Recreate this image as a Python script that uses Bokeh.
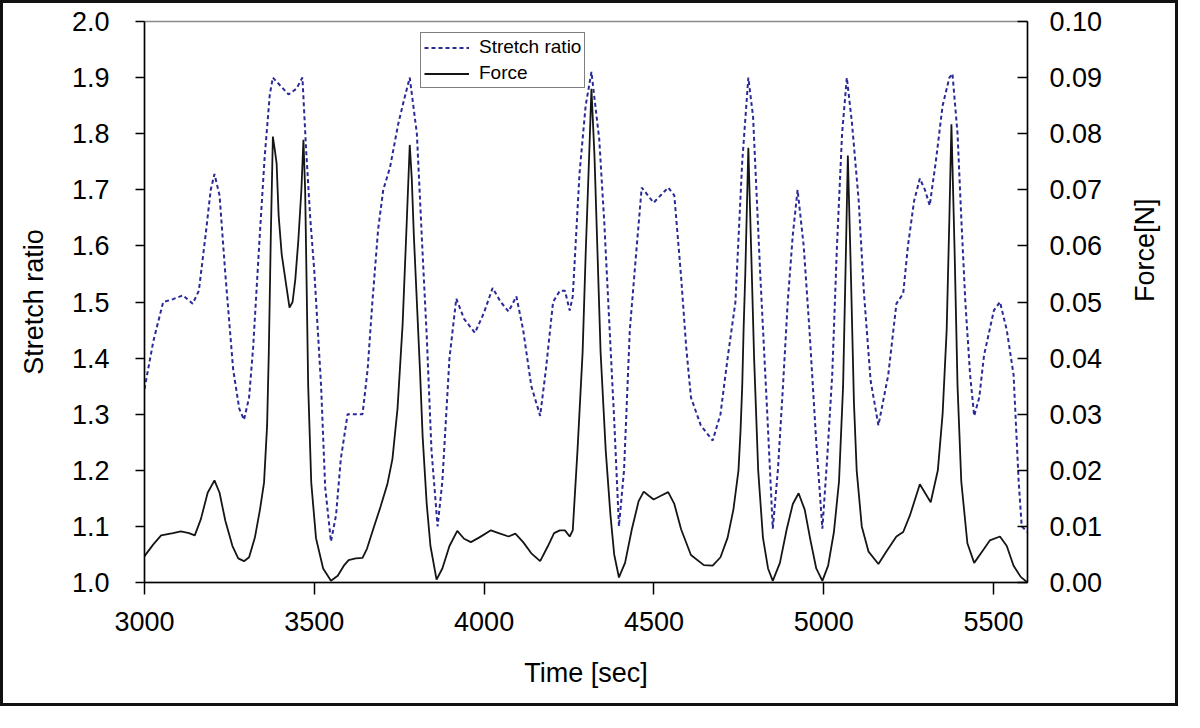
import math
from bokeh.plotting import figure
from bokeh.models import Range1d, LinearAxis, FixedTicker, PrintfTickFormatter, Legend, LegendItem
from bokeh.embed import file_html
from bokeh.resources import INLINE

# ---- data ----
t_stretch = [3000, 3026, 3055, 3084, 3113, 3142, 3160, 3180, 3195, 3206, 3221, 3238, 3261, 3279, 3293,
             3308, 3320, 3340, 3354, 3369, 3378, 3401, 3424, 3447, 3465, 3476, 3488, 3500, 3520, 3532,
             3549, 3564, 3578, 3598, 3642, 3657, 3671, 3688, 3703, 3723, 3747, 3764, 3781, 3802, 3819,
             3831, 3845, 3863, 3877, 3898, 3918, 3941, 3973, 3999, 4025, 4049, 4072, 4095, 4115, 4139,
             4165, 4182, 4203, 4223, 4238, 4252, 4261, 4281, 4299, 4316, 4339, 4354, 4368, 4383, 4397,
             4412, 4429, 4444, 4464, 4499, 4542, 4560, 4580, 4595, 4609, 4638, 4673, 4696, 4717, 4740,
             4760, 4778, 4792, 4813, 4833, 4850, 4865, 4880, 4894, 4909, 4923, 4941, 4958, 4978, 4996,
             5010, 5025, 5039, 5054, 5068, 5083, 5103, 5118, 5138, 5161, 5190, 5214, 5234, 5248, 5266,
             5283, 5298, 5312, 5330, 5350, 5370, 5379, 5394, 5405, 5417, 5431, 5443, 5458, 5472, 5501,
             5519, 5539, 5559, 5574, 5583, 5600]
stretch = [1.345, 1.43, 1.50, 1.505, 1.512, 1.497, 1.52, 1.62, 1.70, 1.728, 1.69, 1.55, 1.38, 1.31, 1.29,
           1.33, 1.42, 1.625, 1.76, 1.87, 1.90, 1.885, 1.87, 1.88, 1.90, 1.77, 1.65, 1.555, 1.35, 1.17,
           1.073, 1.12, 1.22, 1.30, 1.30, 1.38, 1.50, 1.63, 1.70, 1.74, 1.817, 1.86, 1.90, 1.80, 1.585,
           1.44, 1.236, 1.10, 1.18, 1.40, 1.506, 1.47, 1.445, 1.48, 1.525, 1.50, 1.483, 1.51, 1.45, 1.35,
           1.297, 1.38, 1.50, 1.52, 1.52, 1.485, 1.51, 1.73, 1.85, 1.91, 1.79, 1.64, 1.47, 1.29, 1.10,
           1.20, 1.45, 1.56, 1.704, 1.677, 1.704, 1.69, 1.545, 1.42, 1.33, 1.28, 1.253, 1.30, 1.40, 1.50,
           1.75, 1.90, 1.83, 1.55, 1.31, 1.096, 1.20, 1.35, 1.50, 1.62, 1.70, 1.60, 1.45, 1.25, 1.096,
           1.22, 1.37, 1.60, 1.80, 1.90, 1.82, 1.68, 1.52, 1.36, 1.28, 1.37, 1.497, 1.515, 1.60, 1.68,
           1.72, 1.70, 1.672, 1.75, 1.85, 1.90, 1.907, 1.80, 1.65, 1.50, 1.37, 1.297, 1.33, 1.405, 1.485,
           1.50, 1.45, 1.37, 1.18, 1.10, 1.09]

t_force = [3000, 3026, 3049, 3084, 3107, 3131, 3148, 3166, 3186, 3206, 3221, 3238, 3259, 3276, 3293,
           3308, 3325, 3340, 3352, 3361, 3366, 3372, 3378, 3384, 3389, 3395, 3404, 3418, 3427, 3436,
           3444, 3453, 3462, 3468, 3473, 3476, 3482, 3491, 3505, 3526, 3549, 3569, 3587, 3601, 3622,
           3642, 3655, 3675, 3695, 3715, 3730, 3745, 3760, 3772, 3781, 3787, 3793, 3802, 3811, 3819,
           3831, 3842, 3860, 3877, 3898, 3921, 3941, 3961, 3985, 4020, 4043, 4072, 4092, 4115, 4139,
           4165, 4188, 4206, 4223, 4238, 4252, 4261, 4275, 4290, 4299, 4311, 4316, 4325, 4334, 4343,
           4358, 4372, 4383, 4397, 4415, 4435, 4455, 4470, 4484, 4499, 4522, 4542, 4560, 4580, 4609,
           4647, 4673, 4696, 4717, 4734, 4749, 4755, 4760, 4764, 4769, 4778, 4786, 4795, 4807, 4821,
           4836, 4850, 4871, 4891, 4909, 4926, 4944, 4961, 4978, 4996, 5013, 5030, 5045, 5057, 5065,
           5071, 5080, 5089, 5097, 5112, 5132, 5161, 5184, 5214, 5234, 5254, 5283, 5298, 5315, 5336,
           5350, 5362, 5370, 5376, 5385, 5394, 5405, 5423, 5443, 5466, 5489, 5519, 5539, 5559, 5580,
           5600]
force = [0.0047, 0.0068, 0.0084, 0.0088, 0.0091, 0.0088, 0.0084, 0.0113, 0.016, 0.0182, 0.016, 0.011, 0.0065, 0.0043, 0.0038,
         0.0045, 0.008, 0.013, 0.0178, 0.028, 0.041, 0.062, 0.0795, 0.077, 0.0747, 0.0654, 0.0585, 0.0527, 0.049, 0.050,
         0.054, 0.061, 0.070, 0.0789, 0.070, 0.0585, 0.035, 0.0178, 0.0079, 0.0025, 0.0003, 0.0012, 0.003, 0.004, 0.0043,
         0.0044, 0.006, 0.0098, 0.0135, 0.0175, 0.022, 0.031, 0.046, 0.064, 0.078, 0.072, 0.062, 0.050, 0.038, 0.026,
         0.014, 0.0065, 0.0005, 0.0025, 0.0065, 0.0092, 0.0078, 0.0072, 0.008, 0.0093, 0.0088, 0.0082, 0.0087, 0.0072, 0.0052,
         0.0038, 0.0065, 0.0088, 0.0093, 0.0093, 0.0082, 0.0093, 0.0236, 0.041, 0.0585, 0.079, 0.088, 0.076, 0.0585, 0.041,
         0.0236, 0.012, 0.005, 0.0009, 0.0035, 0.0095, 0.0145, 0.0162, 0.0155, 0.0148, 0.0155, 0.0161, 0.014, 0.0095, 0.0049,
         0.0031, 0.003, 0.0045, 0.008, 0.013, 0.020, 0.027, 0.035, 0.045, 0.055, 0.0775, 0.060, 0.040, 0.020, 0.008,
         0.0025, 0.0003, 0.0035, 0.0095, 0.014, 0.0159, 0.013, 0.0075, 0.0025, 0.0003, 0.003, 0.009, 0.018, 0.035, 0.058,
         0.0761, 0.055, 0.032, 0.020, 0.010, 0.0055, 0.0033, 0.0055, 0.0082, 0.009, 0.012, 0.0175, 0.016, 0.0143, 0.020,
         0.030, 0.045, 0.065, 0.0817, 0.060, 0.035, 0.018, 0.007, 0.0035, 0.0055, 0.0075, 0.0082, 0.0065, 0.003, 0.001,
         0.0]

x_ticks = [3000, 3500, 4000, 4500, 5000, 5500]
left_ticks = [1.0, 1.1, 1.2, 1.3, 1.4, 1.5, 1.6, 1.7, 1.8, 1.9, 2.0]
right_ticks = [0.0, 0.01, 0.02, 0.03, 0.04, 0.05, 0.06, 0.07, 0.08, 0.09, 0.10]

FONT = "Liberation Sans"
W, H = 1178, 706

p = figure(width=W, height=H, x_range=Range1d(3000, 5600), y_range=Range1d(1.0, 2.0),
           output_backend="svg", toolbar_location=None,
           min_border_left=141, min_border_right=154, min_border_top=18, min_border_bottom=127)
p.title.visible = False
p.extra_y_ranges = {"force": Range1d(0.0, 0.1)}
p.xgrid.visible = False
p.ygrid.visible = False
p.outline_line_color = "#8a8a8a"
p.outline_line_width = 1.5
p.background_fill_color = "white"
p.border_fill_color = "white"
p.styles = {"border": "3px solid #111111"}

def style_axis(ax):
    ax.axis_line_color = "black"
    ax.axis_line_width = 1.5
    ax.major_tick_line_color = "black"
    ax.major_tick_line_width = 1.5
    ax.minor_tick_line_color = None
    ax.major_label_text_font = FONT
    ax.major_label_text_font_size = "27px"
    ax.major_label_text_color = "black"
    ax.axis_label_text_font = FONT
    ax.axis_label_text_font_size = "27px"
    ax.axis_label_text_font_style = "normal"
    ax.axis_label_text_color = "black"

xa = p.xaxis[0]
style_axis(xa)
xa.ticker = FixedTicker(ticks=x_ticks)
xa.major_tick_out = 12
xa.major_tick_in = 0
xa.major_label_standoff = 17
xa.axis_label = "Time [sec]"
xa.axis_label_standoff = 24

ya = p.yaxis[0]
style_axis(ya)
ya.ticker = FixedTicker(ticks=left_ticks)
ya.formatter = PrintfTickFormatter(format="%.1f")
ya.major_tick_out = 9
ya.major_tick_in = 0
ya.major_label_standoff = 26
ya.axis_label = "Stretch ratio"
ya.axis_label_standoff = 20

ra = LinearAxis(y_range_name="force", ticker=FixedTicker(ticks=right_ticks),
                formatter=PrintfTickFormatter(format="%.2f"), axis_label="Force[N]")
style_axis(ra)
ra.major_tick_out = 0
ra.major_tick_in = 10
ra.major_label_standoff = 22
ra.axis_label_standoff = 40
try:
    ra.axis_label_orientation = math.pi / 2
except Exception:
    pass
p.add_layout(ra, "right")

r1 = p.line(t_stretch, stretch, line_color="#2a2a96", line_width=2, line_dash="4 3")
r2 = p.line(t_force, force, y_range_name="force", line_color="#151515", line_width=1.8)

legend = Legend(items=[LegendItem(label="Stretch ratio", renderers=[r1]),
                       LegendItem(label="Force", renderers=[r2])],
                location=(276, 494), orientation="vertical")
legend.label_text_font = FONT
legend.label_text_font_size = "19px"
legend.label_text_color = "black"
legend.glyph_width = 45
legend.glyph_height = 19
legend.label_height = 19
legend.label_standoff = 10
legend.padding = 3
legend.spacing = 4
legend.margin = 0
legend.border_line_color = "black"
legend.border_line_width = 1.5
legend.background_fill_color = "white"
legend.background_fill_alpha = 1.0
p.add_layout(legend, "center")

open("out.html", "w").write(file_html(p, INLINE))
